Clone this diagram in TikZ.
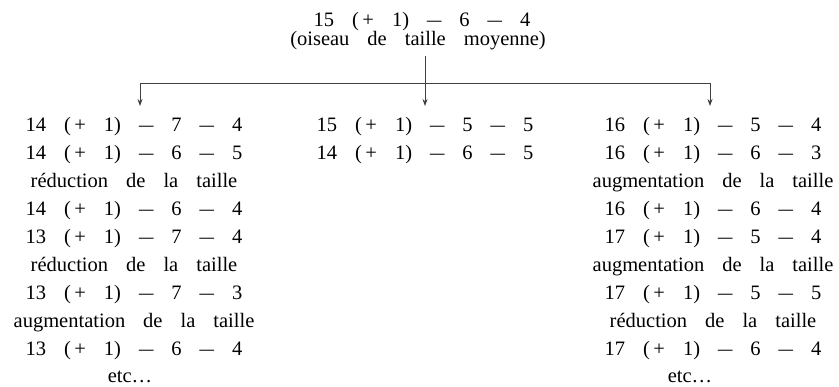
\documentclass[tikz,border=0pt]{standalone}
\usepackage{fontspec}
\setmainfont{Liberation Serif}
\usetikzlibrary{arrows.meta}
\newcommand\colfont{\fontsize{20.5}{24}\selectfont\spaceskip=18pt\relax}
\newcommand\dsh{\scalebox{1.4}[1]{–}}
\begin{document}
\begin{tikzpicture}[x=1pt,y=-1pt,
  txt/.style={inner sep=0pt, anchor=base, font=\colfont},
  conn/.style={draw=black!75, line width=0.8pt},
  arr/.style={conn, -{Stealth[length=7pt,width=5pt]}}]
\useasboundingbox (0,0) rectangle (839,387);
% header
\node[txt] (top) at (422,27) {15 (\,+ 1) \dsh{} 6 \dsh{} 4};
\node[txt] (sub) at (418,46) {(oiseau de taille moyenne)};
% connectors
\coordinate (jt) at (425,56);
\coordinate (jc) at (425,83);
\coordinate (jl) at (140,83);
\coordinate (jr) at (710,83);
\coordinate (al) at (140,106);
\coordinate (am) at (425,106);
\coordinate (ar) at (710,106);
\draw[conn] (jt) -- (jc);
\draw[conn] (jl) -- (jr);
\draw[arr] (jl) -- (al);
\draw[arr] (jc) -- (am);
\draw[arr] (jr) -- (ar);
% left column
\foreach \t [count=\i] in {
  14 (\,+ 1) \dsh{} 7 \dsh{} 4,
  14 (\,+ 1) \dsh{} 6 \dsh{} 5,
  réduction de la taille,
  14 (\,+ 1) \dsh{} 6 \dsh{} 4,
  13 (\,+ 1) \dsh{} 7 \dsh{} 4,
  réduction de la taille,
  13 (\,+ 1) \dsh{} 7 \dsh{} 3,
  augmentation de la taille,
  13 (\,+ 1) \dsh{} 6 \dsh{} 4}
  \node[txt] (L\i) at (134,{132+27.9*(\i-1)}) {\t};
\node[txt] (L10) at (130,383) {etc\ldots};
% middle column
\node[txt] (M1) at (425,132) {15 (\,+ 1) \dsh{} 5 \dsh{} 5};
\node[txt] (M2) at (425,159.9) {14 (\,+ 1) \dsh{} 6 \dsh{} 5};
% right column
\foreach \t [count=\i] in {
  16 (\,+ 1) \dsh{} 5 \dsh{} 4,
  16 (\,+ 1) \dsh{} 6 \dsh{} 3,
  augmentation de la taille,
  16 (\,+ 1) \dsh{} 6 \dsh{} 4,
  17 (\,+ 1) \dsh{} 5 \dsh{} 4,
  augmentation de la taille,
  17 (\,+ 1) \dsh{} 5 \dsh{} 5,
  réduction de la taille,
  17 (\,+ 1) \dsh{} 6 \dsh{} 4}
  \node[txt] (R\i) at (713,{132+27.9*(\i-1)}) {\t};
\node[txt] (R10) at (690,383) {etc\ldots};
\end{tikzpicture}
\end{document}
